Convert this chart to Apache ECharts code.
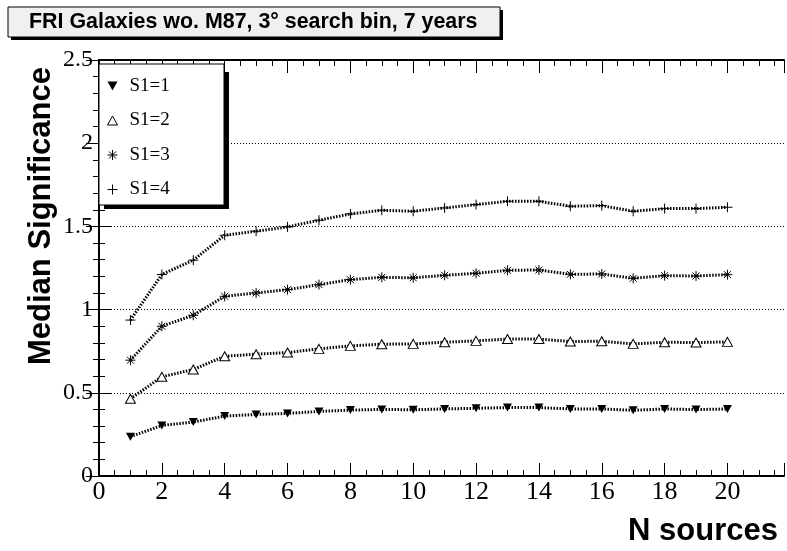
<!DOCTYPE html>
<html>
<head>
<meta charset="utf-8">
<script src="https://cdn.jsdelivr.net/npm/echarts@6/dist/echarts.min.js"></script>
<style>
html,body{margin:0;padding:0;background:#fff;}
#c{width:787px;height:551px;}
</style>
</head>
<body>
<div id="c"></div>
<script>
const nSources = [1,2,3,4,5,6,7,8,9,10,11,12,13,14,15,16,17,18,19,20];
const s1eq1 = [0.236,0.304,0.324,0.360,0.370,0.376,0.388,0.396,0.400,0.398,0.403,0.407,0.411,0.411,0.403,0.403,0.395,0.403,0.399,0.403];
const s1eq2 = [0.464,0.596,0.640,0.720,0.732,0.742,0.764,0.782,0.792,0.794,0.804,0.812,0.823,0.823,0.808,0.810,0.794,0.804,0.802,0.806];
const s1eq3 = [0.696,0.900,0.966,1.080,1.100,1.120,1.150,1.180,1.194,1.191,1.206,1.218,1.236,1.238,1.212,1.214,1.188,1.204,1.202,1.210];
const s1eq4 = [0.937,1.211,1.297,1.447,1.471,1.497,1.537,1.575,1.597,1.591,1.611,1.631,1.651,1.651,1.621,1.625,1.591,1.607,1.607,1.615];
const seriesNames = ['S1=1','S1=2','S1=3','S1=4'];
const titleText = 'FRI Galaxies wo. M87, 3\u00b0 search bin, 7 years';
const yTitle = 'Median Significance';
const xTitle = 'N sources';

const chart = echarts.init(document.getElementById('c'), null, {renderer:'canvas'});
const serif = '"Liberation Serif", "Times New Roman", serif';
const sans = '"Liberation Sans", Arial, sans-serif';

const symInvTri = 'path://M0,0L10,0L5,9Z';
const symTri = 'path://M5,0L10,9L0,9Z';
const symStar = 'path://M5,0L5,10M0,5L10,5M1.5,1.5L8.5,8.5M1.5,8.5L8.5,1.5';
const symPlus = 'path://M5,0L5,10M0,5L10,5';

function pairs(ys){ return nSources.map((x,i)=>[x, ys[i]]); }

const lineStyle = {color:'#000', width:3, type:[1.5,1.5]};
function mk(name, ys, symbol, size, itemStyle){
  return {
    name, type:'line', data:pairs(ys), xAxisIndex:0, yAxisIndex:0,
    symbol, symbolSize:size, showAllSymbol:true,
    lineStyle, itemStyle, z:3, animation:false,
    emphasis:{disabled:true}
  };
}

const gridBox = {left:99, right:1, top:60, bottom:75};
const axisLine = {show:true, lineStyle:{color:'#000', width:2}};

chart.setOption({
  animation:false,
  backgroundColor:'#fff',
  grid: gridBox,
  xAxis: [
    {type:'value', position:'bottom', min:0, max:21.8, interval:2,
     axisLine, axisTick:{show:true, inside:true, length:13, lineStyle:{color:'#000', width:1}},
     axisLabel:{show:true, margin:3, color:'#000', fontFamily:serif, fontSize:26,
       formatter:(v)=> (Math.abs(v % 2) < 1e-9 ? String(v) : '')},
     splitLine:{show:false}},
    {type:'value', position:'bottom', min:0, max:21.8, interval:0.5,
     axisLine:{show:false}, axisTick:{show:true, inside:true, length:6, lineStyle:{color:'#000', width:1}},
     axisLabel:{show:false}, splitLine:{show:false}},
    {type:'value', position:'top', min:0, max:21.8, interval:2,
     axisLine, axisTick:{show:true, inside:true, length:13, lineStyle:{color:'#000', width:1}},
     axisLabel:{show:false}, splitLine:{show:false}},
    {type:'value', position:'top', min:0, max:21.8, interval:0.5,
     axisLine:{show:false}, axisTick:{show:true, inside:true, length:6, lineStyle:{color:'#000', width:1}},
     axisLabel:{show:false}, splitLine:{show:false}}
  ],
  yAxis: [
    {type:'value', position:'left', min:0, max:2.5, interval:0.5,
     axisLine, axisTick:{show:true, inside:true, length:13, lineStyle:{color:'#000', width:1}},
     minorTick:{show:true, splitNumber:5, length:6, lineStyle:{color:'#000', width:1}},
     axisLabel:{show:true, margin:6, color:'#000', fontFamily:serif, fontSize:24},
     splitLine:{show:true, lineStyle:{color:'#000', width:1, type:[1,2]}}},
    {type:'value', position:'right', min:0, max:2.5, interval:0.5,
     axisLine, axisTick:{show:true, inside:true, length:13, lineStyle:{color:'#000', width:1}},
     minorTick:{show:true, splitNumber:5, length:6, lineStyle:{color:'#000', width:1}},
     axisLabel:{show:false}, splitLine:{show:false}}
  ],
  legend: {
    orient:'vertical', left:99, top:64, z:20,
    padding:[12, 10, 10, 8],
    itemWidth:10, itemHeight:10, itemGap:14.5,
    selectedMode:false,
    textStyle:{fontFamily:serif, fontSize:19, color:'#000', lineHeight:20, padding:[0,0,0,7]},
    data:[
      {name:'S1=1', icon:symInvTri, itemStyle:{color:'#000', borderColor:'#000', borderWidth:0}},
      {name:'S1=2', icon:symTri, itemStyle:{color:'#fff', borderColor:'#000', borderWidth:1}},
      {name:'S1=3', icon:symStar, itemStyle:{color:'#000', borderColor:'#000', borderWidth:1}},
      {name:'S1=4', icon:symPlus, itemStyle:{color:'#000', borderColor:'#000', borderWidth:1}}
    ]
  },
  graphic: [
    {type:'rect', z:100, shape:{x:11, y:10, width:492, height:30}, style:{fill:'#000'}},
    {type:'rect', z:101, shape:{x:8, y:7, width:492, height:30}, style:{fill:'#f0f0f0', stroke:'#000', lineWidth:1}},
    {type:'text', z:102, x:29, y:22.6, style:{text:titleText, font:'bold 21.4px ' + sans, fill:'#000', align:'left', verticalAlign:'middle'}},
    {type:'rect', z:10, shape:{x:104, y:72, width:125, height:137}, style:{fill:'#000'}},
    {type:'rect', z:11, shape:{x:99, y:64, width:125, height:141}, style:{fill:'#fff', stroke:'#000', lineWidth:1}},
    {type:'text', z:30, x:41, y:67, rotation:Math.PI/2, style:{text:yTitle, font:'bold 31px ' + sans, fill:'#000', align:'right', verticalAlign:'middle'}},
    {type:'text', z:30, x:778, y:531, style:{text:xTitle, font:'bold 31px ' + sans, fill:'#000', align:'right', verticalAlign:'middle'}}
  ],
  series: [
    mk('S1=1', s1eq1, symInvTri, [9,8], {color:'#000', borderColor:'#000', borderWidth:0}),
    mk('S1=2', s1eq2, symTri, [10,9], {color:'#fff', borderColor:'#000', borderWidth:1}),
    mk('S1=3', s1eq3, symStar, [10,10], {color:'#000', borderColor:'#000', borderWidth:1}),
    mk('S1=4', s1eq4, symPlus, [10,10], {color:'#000', borderColor:'#000', borderWidth:1})
  ]
});
</script>
</body>
</html>
